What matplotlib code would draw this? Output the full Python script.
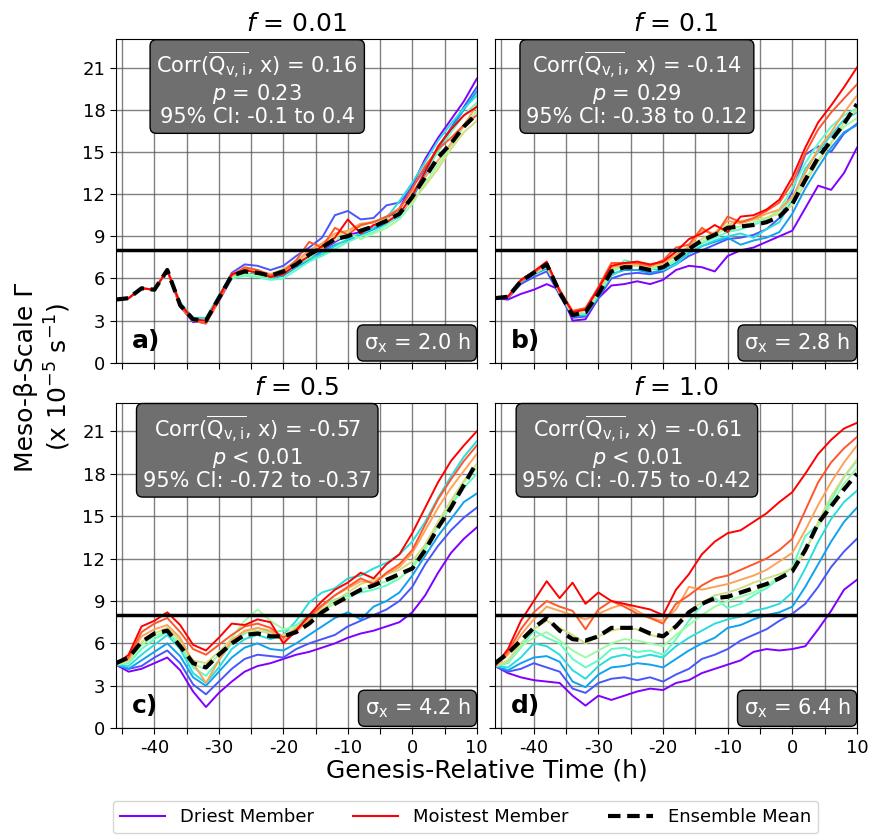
import numpy as np
import matplotlib
matplotlib.use('Agg')
import matplotlib.pyplot as plt

# genesis-relative time (h), every 2 h
hours = np.arange(-46, 11, 2)

# ensemble means (x 10^-5 s^-1)
mean_a = [4.5, 4.6, 5.3, 5.2, 6.6, 4.1, 3.1, 3.0, 4.6, 6.2, 6.5, 6.4, 6.2, 6.5, 7.0, 7.7, 8.2, 8.8, 9.0, 9.4, 9.7, 10.1, 10.6, 11.8, 13.2, 14.6, 15.6, 16.8, 17.7]
mean_b = [4.6, 4.7, 5.8, 6.4, 7.0, 5.0, 3.4, 3.6, 4.9, 6.5, 6.8, 6.8, 6.6, 6.8, 7.4, 8.1, 8.7, 9.1, 9.6, 9.7, 9.8, 10.0, 10.4, 11.3, 13.0, 14.6, 15.8, 17.0, 18.4]
mean_c = [4.6, 5.0, 6.1, 6.7, 6.9, 5.8, 4.6, 4.3, 5.2, 6.0, 6.6, 6.7, 6.5, 6.5, 6.8, 7.4, 8.2, 8.8, 9.3, 9.8, 10.1, 10.5, 10.9, 11.3, 12.6, 14.2, 15.6, 17.2, 18.8]
mean_d = [4.6, 5.3, 6.2, 7.1, 7.8, 6.9, 6.3, 6.2, 6.5, 7.1, 7.1, 7.1, 6.7, 6.5, 7.2, 8.2, 8.8, 9.2, 9.3, 9.6, 9.9, 10.2, 10.6, 11.1, 12.6, 14.5, 15.7, 16.9, 18.0]

# members, ordered driest -> moistest
members_a = [
    [4.5, 4.6, 5.3, 5.2, 6.6, 4.0, 2.9, 3.0, 4.4, 6.0, 6.6, 6.5, 6.1, 6.4, 7.1, 7.5, 8.0, 8.6, 9.1, 9.3, 9.6, 10.2, 11.0, 12.6, 14.5, 16.0, 17.3, 18.6, 20.2],
    [4.5, 4.6, 5.3, 5.2, 6.6, 4.2, 3.0, 2.8, 4.7, 6.4, 7.0, 6.9, 6.6, 6.9, 7.6, 8.2, 8.9, 10.5, 10.8, 10.2, 10.3, 11.2, 11.4, 12.5, 13.8, 15.3, 16.7, 18.2, 19.6],
    [4.5, 4.6, 5.3, 5.2, 6.6, 4.1, 3.2, 3.1, 4.5, 6.1, 6.3, 6.3, 6.0, 6.2, 6.8, 7.3, 7.9, 8.4, 8.7, 9.1, 9.5, 9.9, 10.4, 11.7, 13.4, 15.2, 16.6, 18.0, 19.3],
    [4.5, 4.6, 5.3, 5.2, 6.6, 4.3, 3.2, 3.2, 4.8, 6.3, 6.4, 6.2, 6.0, 6.3, 6.9, 7.4, 7.7, 8.3, 8.8, 9.2, 9.6, 10.3, 11.5, 12.8, 14.3, 15.8, 17.0, 18.1, 19.0],
    [4.5, 4.6, 5.3, 5.2, 6.6, 4.0, 3.0, 3.1, 4.5, 6.0, 6.2, 6.1, 5.9, 6.0, 6.6, 7.2, 7.6, 8.1, 8.6, 9.0, 9.3, 9.8, 10.5, 11.9, 13.6, 15.0, 16.4, 17.6, 18.5],
    [4.5, 4.6, 5.3, 5.2, 6.6, 4.2, 3.1, 3.0, 4.6, 6.1, 6.3, 6.2, 6.1, 6.4, 7.0, 7.5, 8.1, 8.7, 9.2, 8.8, 9.2, 9.6, 10.2, 11.3, 12.8, 14.1, 15.4, 16.8, 17.9],
    [4.5, 4.6, 5.3, 5.2, 6.6, 4.1, 3.0, 2.9, 4.5, 6.2, 6.6, 6.5, 6.3, 6.7, 7.2, 7.8, 8.4, 9.0, 9.3, 9.7, 10.1, 10.2, 10.7, 11.5, 12.6, 13.8, 15.2, 16.4, 17.2],
    [4.5, 4.6, 5.3, 5.2, 6.6, 4.2, 3.1, 2.9, 4.6, 6.3, 6.7, 6.6, 6.3, 6.6, 7.2, 8.0, 8.5, 9.2, 9.4, 9.9, 10.0, 10.4, 11.0, 12.2, 13.2, 14.4, 15.6, 16.9, 18.3],
    [4.5, 4.6, 5.3, 5.2, 6.6, 4.0, 3.0, 2.8, 4.4, 6.2, 6.8, 6.6, 6.2, 6.5, 7.3, 8.6, 8.2, 9.6, 9.1, 9.8, 10.0, 10.4, 10.9, 12.4, 14.0, 15.2, 16.0, 16.9, 17.6],
    [4.5, 4.6, 5.3, 5.2, 6.6, 4.2, 3.1, 3.0, 4.7, 6.3, 6.6, 6.4, 6.1, 6.3, 7.0, 7.6, 8.3, 8.9, 10.2, 9.2, 9.8, 10.0, 10.6, 11.9, 13.6, 15.4, 16.6, 17.6, 18.2],
]
members_b = [
    [4.6, 4.5, 4.9, 5.2, 5.6, 5.2, 3.0, 3.1, 4.6, 5.5, 5.6, 5.8, 5.6, 5.9, 6.6, 6.9, 6.8, 6.5, 7.6, 8.0, 8.2, 8.6, 9.0, 9.4, 11.0, 12.6, 12.3, 13.5, 15.3],
    [4.6, 4.6, 5.6, 6.1, 6.5, 4.8, 3.2, 3.3, 4.6, 6.0, 6.3, 6.4, 6.3, 6.5, 7.0, 7.6, 8.0, 8.4, 8.8, 8.9, 9.1, 9.5, 10.3, 12.2, 14.8, 15.4, 15.0, 16.3, 17.0],
    [4.6, 4.7, 5.7, 6.3, 6.7, 5.1, 3.3, 3.4, 4.7, 6.3, 6.6, 6.6, 6.4, 6.6, 7.1, 7.8, 8.3, 8.6, 8.9, 8.4, 8.7, 8.9, 9.3, 10.6, 12.4, 13.9, 15.3, 16.4, 16.9],
    [4.6, 4.7, 5.9, 6.5, 6.9, 5.2, 3.5, 3.4, 4.8, 6.2, 6.7, 7.0, 6.7, 6.6, 7.0, 7.8, 8.3, 8.7, 9.0, 9.2, 8.9, 9.5, 10.0, 11.6, 13.8, 15.0, 16.2, 17.3, 17.8],
    [4.6, 4.7, 5.8, 6.3, 6.9, 5.0, 3.4, 3.5, 4.8, 6.3, 7.3, 7.1, 6.8, 6.8, 7.3, 8.0, 8.5, 8.9, 9.3, 9.5, 9.8, 10.2, 10.9, 12.4, 14.2, 15.6, 16.8, 17.6, 18.1],
    [4.6, 4.7, 5.9, 6.4, 6.8, 5.0, 3.5, 3.7, 5.0, 6.5, 6.9, 6.9, 6.7, 6.8, 7.4, 8.1, 8.6, 9.1, 9.6, 9.7, 10.0, 10.3, 10.8, 11.6, 13.1, 14.4, 15.7, 16.8, 17.4],
    [4.6, 4.7, 5.8, 6.5, 6.9, 5.1, 3.4, 3.7, 5.1, 6.7, 7.0, 6.9, 6.8, 7.0, 7.6, 8.3, 8.8, 9.3, 9.8, 10.1, 10.2, 10.3, 10.6, 11.2, 12.8, 14.3, 15.6, 17.1, 18.0],
    [4.6, 4.7, 5.9, 6.4, 7.0, 5.0, 3.6, 3.8, 5.2, 6.8, 7.0, 7.0, 6.9, 7.1, 7.7, 8.2, 9.4, 9.2, 10.1, 9.9, 10.2, 10.6, 10.9, 11.8, 13.5, 15.2, 16.4, 17.8, 19.0],
    [4.6, 4.7, 5.8, 6.4, 7.1, 5.2, 3.7, 3.9, 5.4, 7.1, 7.1, 7.1, 6.9, 7.3, 8.2, 8.4, 9.6, 9.0, 10.4, 10.0, 10.3, 10.8, 11.4, 12.8, 14.9, 16.6, 17.8, 18.8, 19.8],
    [4.6, 4.7, 5.9, 6.5, 7.2, 5.1, 3.6, 3.8, 5.3, 6.9, 7.1, 7.2, 7.0, 7.2, 7.9, 8.8, 9.2, 9.8, 9.3, 10.4, 10.5, 10.9, 11.6, 13.2, 15.3, 17.1, 18.3, 19.6, 21.0],
]
members_c = [
    [4.5, 4.0, 4.2, 4.6, 5.0, 4.1, 2.6, 1.5, 2.5, 3.3, 4.0, 4.4, 4.6, 4.9, 5.2, 5.4, 5.7, 6.0, 6.4, 6.7, 6.9, 7.2, 7.5, 8.2, 9.4, 11.0, 12.4, 13.4, 14.2],
    [4.5, 4.2, 4.4, 5.0, 5.5, 4.6, 3.1, 2.4, 3.3, 4.2, 4.9, 5.2, 5.1, 5.0, 5.6, 6.0, 6.3, 6.6, 7.2, 7.6, 8.0, 8.4, 9.0, 10.0, 11.6, 12.9, 14.0, 14.9, 15.6],
    [4.5, 4.2, 4.8, 5.4, 6.0, 5.1, 3.6, 3.0, 4.0, 5.0, 5.7, 6.0, 5.6, 5.5, 6.0, 6.6, 7.2, 7.8, 8.2, 7.7, 8.6, 9.0, 9.6, 10.8, 12.2, 13.6, 14.8, 16.0, 16.6],
    [4.5, 4.4, 5.2, 5.9, 6.6, 5.6, 3.9, 3.2, 4.3, 5.6, 6.3, 6.6, 6.3, 6.6, 7.6, 8.9, 9.6, 9.9, 10.6, 10.8, 11.3, 11.7, 12.3, 13.2, 14.6, 16.3, 17.8, 19.2, 20.3],
    [4.5, 4.6, 5.6, 6.3, 6.8, 5.8, 4.3, 3.7, 4.8, 6.0, 6.7, 7.1, 6.8, 6.9, 7.3, 8.0, 8.7, 9.1, 9.4, 9.6, 9.8, 10.1, 10.6, 11.4, 12.8, 14.3, 15.8, 17.0, 18.0],
    [4.5, 4.7, 5.9, 6.5, 6.9, 6.0, 4.5, 4.2, 5.2, 6.4, 7.6, 8.4, 7.6, 7.0, 7.2, 7.7, 8.3, 8.8, 9.2, 9.8, 10.1, 10.4, 10.6, 11.3, 12.6, 14.4, 15.9, 17.4, 18.4],
    [4.5, 4.8, 6.1, 6.7, 7.1, 6.2, 4.8, 4.6, 5.4, 6.3, 6.8, 6.9, 6.7, 6.6, 7.1, 7.6, 8.4, 9.0, 9.6, 10.2, 10.5, 10.9, 11.2, 11.8, 13.0, 14.6, 16.1, 17.5, 18.7],
    [4.5, 4.9, 6.5, 7.0, 7.3, 6.4, 4.6, 3.2, 4.8, 6.2, 6.9, 7.1, 6.9, 6.2, 6.8, 7.7, 8.6, 9.4, 9.9, 10.4, 10.3, 10.9, 11.4, 12.4, 14.0, 15.6, 17.0, 18.2, 19.4],
    [4.5, 5.0, 6.8, 7.4, 7.8, 6.8, 5.6, 5.2, 5.9, 6.6, 7.2, 7.4, 7.1, 6.4, 7.0, 7.9, 8.7, 9.4, 10.0, 10.6, 10.2, 11.0, 11.6, 12.6, 14.4, 16.2, 17.6, 18.9, 20.0],
    [4.5, 5.2, 7.2, 7.6, 8.2, 7.3, 5.9, 5.5, 6.4, 7.4, 7.3, 7.7, 7.5, 6.0, 6.9, 8.0, 9.0, 9.8, 10.3, 11.0, 10.6, 11.6, 12.3, 13.8, 15.6, 17.4, 18.9, 20.0, 21.0],
]
members_d = [
    [4.4, 3.9, 3.6, 3.4, 3.3, 3.2, 2.3, 1.6, 2.3, 2.0, 2.3, 2.6, 2.8, 2.7, 3.2, 3.4, 3.9, 4.2, 4.5, 4.8, 5.4, 5.6, 5.5, 5.6, 5.8, 7.0, 8.3, 9.8, 10.5],
    [4.4, 4.0, 4.2, 4.6, 4.3, 4.0, 2.8, 2.5, 3.2, 3.5, 3.6, 3.4, 3.6, 3.3, 3.8, 4.2, 4.9, 5.2, 5.6, 6.2, 6.6, 7.0, 7.6, 8.1, 8.8, 10.0, 11.4, 12.5, 13.4],
    [4.4, 4.1, 4.6, 5.0, 5.1, 4.7, 3.3, 2.9, 3.8, 4.3, 4.4, 4.6, 4.5, 4.3, 4.9, 5.5, 6.0, 6.4, 7.1, 7.3, 7.7, 8.0, 8.2, 8.6, 10.0, 11.6, 13.2, 14.6, 15.6],
    [4.4, 4.3, 5.0, 6.0, 5.8, 5.2, 4.1, 3.5, 4.4, 5.0, 5.2, 5.0, 5.2, 5.0, 5.8, 6.4, 6.9, 7.4, 7.7, 7.9, 8.3, 8.5, 8.8, 9.6, 11.3, 13.2, 14.8, 16.0, 16.8],
    [4.4, 4.6, 5.7, 6.9, 6.4, 6.0, 4.9, 4.3, 4.8, 5.6, 5.7, 5.4, 5.5, 5.2, 6.3, 7.6, 8.7, 9.2, 8.5, 8.8, 9.4, 9.9, 10.6, 11.4, 13.6, 14.4, 16.1, 17.8, 18.9],
    [4.4, 4.7, 5.8, 6.4, 6.8, 6.2, 5.5, 5.0, 5.5, 6.0, 6.3, 6.2, 6.0, 5.8, 6.6, 7.3, 8.0, 8.6, 9.0, 9.3, 9.6, 10.1, 10.7, 11.4, 12.6, 14.3, 15.8, 17.3, 18.4],
    [4.4, 4.8, 6.0, 7.0, 7.6, 7.1, 6.6, 6.0, 6.5, 6.9, 7.1, 7.0, 6.6, 6.4, 7.3, 8.3, 8.9, 9.4, 9.6, 9.9, 10.3, 10.6, 10.9, 11.3, 12.4, 14.6, 16.4, 17.8, 19.0],
    [4.4, 5.2, 6.6, 7.7, 8.6, 8.3, 8.0, 7.7, 8.1, 8.5, 8.8, 8.3, 7.8, 7.6, 8.4, 10.0, 9.8, 10.0, 10.2, 10.5, 10.8, 11.2, 11.8, 12.4, 14.0, 15.8, 17.4, 18.8, 20.0],
    [4.4, 5.4, 7.0, 8.2, 9.0, 8.6, 8.3, 7.0, 8.4, 9.0, 8.6, 8.1, 7.8, 7.4, 8.8, 9.4, 10.1, 10.6, 10.8, 11.2, 11.6, 12.0, 12.6, 13.4, 15.4, 17.4, 18.8, 19.8, 20.6],
    [4.4, 5.6, 7.6, 9.0, 10.4, 9.2, 10.3, 8.8, 9.6, 9.0, 8.8, 8.6, 8.4, 8.0, 9.8, 10.9, 12.3, 13.2, 13.8, 14.0, 14.6, 15.2, 16.0, 16.7, 18.0, 19.4, 20.4, 21.2, 21.6],
]

titles = ['0.01', '0.1', '0.5', '1.0']
panel_labels = ['a)', 'b)', 'c)', 'd)']
corr_vals = ['0.16', '-0.14', '-0.57', '-0.61']
p_vals = ['= 0.23', '= 0.29', '< 0.01', '< 0.01']
ci_vals = ['-0.1 to 0.4', '-0.38 to 0.12', '-0.72 to -0.37', '-0.75 to -0.42']
sigma_x = ['2.0', '2.8', '4.2', '6.4']
threshold = 8

all_members = [members_a, members_b, members_c, members_d]
all_means = [mean_a, mean_b, mean_c, mean_d]

fig = plt.figure(figsize=(8.7, 8.38), dpi=100)
boxes = [
    [0.133, 0.567, 0.415, 0.386],
    [0.569, 0.567, 0.416, 0.386],
    [0.133, 0.131, 0.415, 0.388],
    [0.569, 0.131, 0.416, 0.388],
]

for i in range(4):
    ax = fig.add_axes(boxes[i])
    mem = all_members[i]
    cols = plt.cm.rainbow(np.linspace(0, 1, len(mem)))
    for j, m in enumerate(mem):
        ax.plot(hours, m, color=cols[j], lw=1.4, zorder=2)
    ax.plot(hours, all_means[i], color='black', ls='--', lw=3, dashes=(3, 1.6), zorder=4)
    ax.axhline(threshold, color='black', lw=2.5, zorder=3)

    ax.set_xlim(-46, 10)
    ax.set_ylim(0, 23)
    ax.set_yticks(range(0, 22, 3))
    xt = list(range(-45, 11, 5))
    ax.set_xticks(xt)
    ax.grid(True, color='#555555', lw=1, alpha=0.75)
    ax.set_axisbelow(True)
    ax.tick_params(labelsize=13, length=4)
    if i >= 2:
        ax.set_xticklabels([str(t) if t % 10 == 0 else '' for t in xt])
    else:
        ax.set_xticklabels([])
    if i % 2 == 1:
        ax.set_yticklabels([])

    ax.set_title('$f$ = ' + titles[i], fontsize=18, pad=6)

    txt = ('Corr($\\overline{\\mathrm{Q_{v,i}}}$, x) = ' + corr_vals[i] + '\n'
           + '$p$ ' + p_vals[i] + '\n95% CI: ' + ci_vals[i])
    ax.text(0.392, 0.968, txt, transform=ax.transAxes, ha='center', va='top',
            multialignment='center', fontsize=15, linespacing=1.05, color='white', zorder=6,
            bbox=dict(boxstyle='round,pad=0.3', facecolor='#6f6f6f', edgecolor='black', lw=1))
    ax.text(0.982, 0.025, '$\\mathrm{\\sigma_x}$ = ' + sigma_x[i] + ' h', transform=ax.transAxes,
            ha='right', va='bottom', fontsize=15, color='white', zorder=6,
            bbox=dict(boxstyle='round,pad=0.3', facecolor='#6f6f6f', edgecolor='black', lw=1))
    ax.text(0.045, 0.03, panel_labels[i], transform=ax.transAxes, ha='left', va='bottom',
            fontsize=18, fontweight='bold', zorder=6)

fig.text(0.05, 0.55, 'Meso-β-Scale Γ\n(x 10$^{-5}$ s$^{-1}$)', rotation=90,
         ha='center', va='center', fontsize=18, multialignment='center')
fig.text(0.56, 0.08, 'Genesis-Relative Time (h)', ha='center', va='center', fontsize=18)

handles = [
    plt.Line2D([], [], color=plt.cm.rainbow(0.0), lw=1.5),
    plt.Line2D([], [], color=plt.cm.rainbow(1.0), lw=1.5),
    plt.Line2D([], [], color='black', ls='--', lw=3, dashes=(3, 1.6)),
]
fig.legend(handles, ['Driest Member', 'Moistest Member', 'Ensemble Mean'], loc='lower center',
           bbox_to_anchor=(0.535, -0.005), ncol=3, fontsize=13, columnspacing=2.2, handlelength=2.5)

fig.savefig('out.png', dpi=100)
